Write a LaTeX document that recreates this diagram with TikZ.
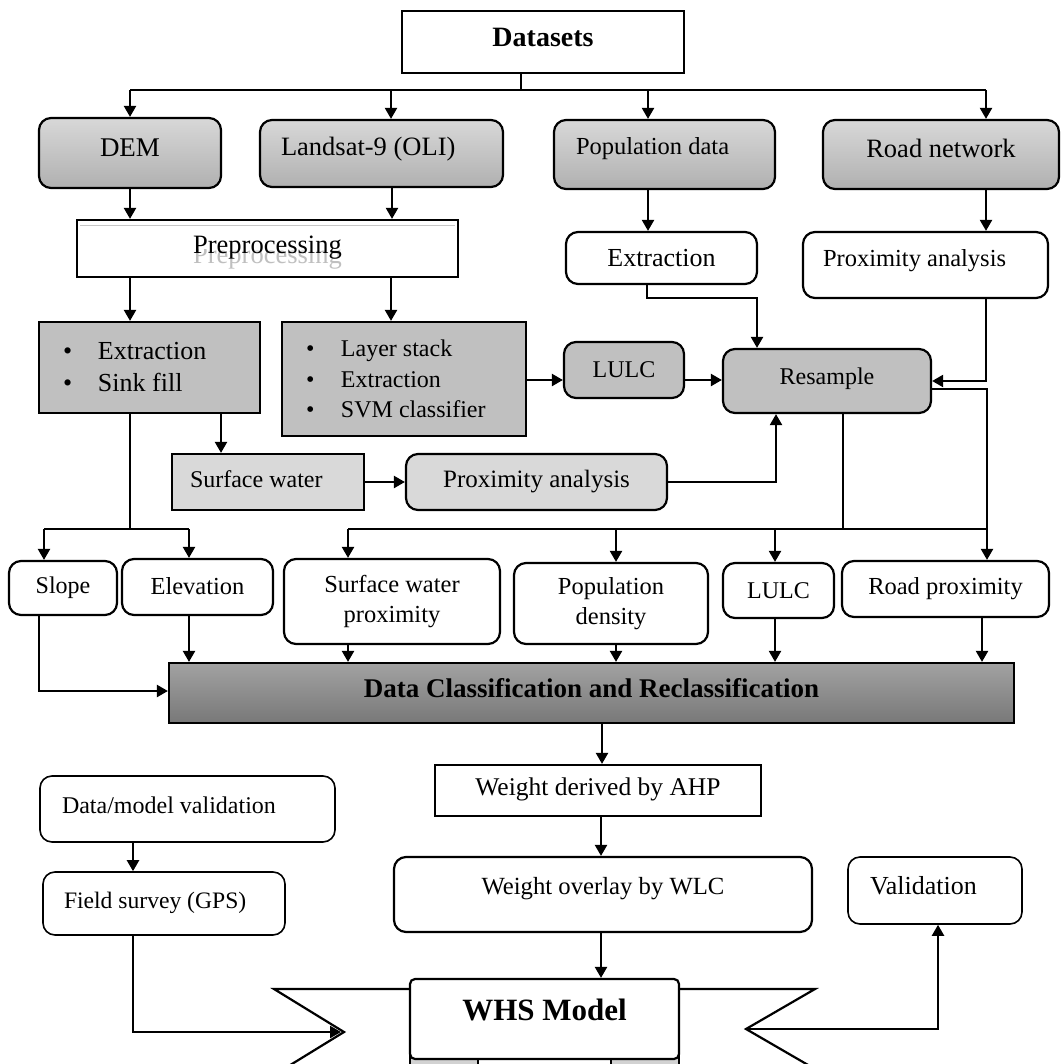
\documentclass[tikz,border=0pt]{standalone}
\usepackage{fontspec}
\setmainfont{Liberation Serif}
\usetikzlibrary{arrows.meta}
\definecolor{gtop}{RGB}{216,216,216}
\definecolor{gbot}{RGB}{176,176,176}
\definecolor{gflat}{RGB}{192,192,192}
\definecolor{glight}{RGB}{217,217,217}
\definecolor{dtop}{RGB}{162,162,162}
\definecolor{dbot}{RGB}{120,120,120}
\newcommand{\fsz}[2]{\fontsize{#1}{#2}\selectfont}
\newcommand{\up}[2]{\raisebox{#1pt}[\height][\depth]{#2}}
\newcommand{\lft}[2]{\makebox[#1pt][l]{#2}}
\newcommand{\bul}[1]{\makebox[35pt][l]{•}#1}
\begin{document}
\begin{tikzpicture}[x=1pt,y=-1pt,
  bx/.style={draw, line width=2.2pt, inner sep=0pt, align=center},
  rbx/.style={bx, rounded corners=12pt},
  thin/.style={line width=1.6pt},
  gradbox/.style={top color=gtop, bottom color=gbot},
  ln/.style={line width=2.2pt},
  arr/.style={line width=2.2pt, -{Triangle[length=11pt,width=12pt]}},
  sz/.style 2 args={minimum width=#1pt, minimum height=#2pt},
]
\useasboundingbox (0,0) rectangle (1061,1064);
\clip (0,0) rectangle (1061,1064);
\fill[white] (0,0) rectangle (1061,1064);

% ribbon tails (behind the WHS model banner)
\draw[ln, fill=white] (420,989) -- (274,989) -- (344,1032) -- (274,1075) -- (420,1075);
\draw[ln, fill=white] (670,989) -- (815,989) -- (746,1029) -- (815,1069) -- (670,1069);
\draw[line width=1.5pt, fill=gray!35] (410,1050) rectangle (478,1072);
\draw[line width=1.5pt, fill=gray!35] (611,1050) rectangle (679,1072);
\coordinate (lnotch) at (341,1032);
\coordinate (rnotch) at (746,1029);

% nodes
\node[bx, sz={282}{62}, font=\bfseries\fsz{28}{33}] (datasets) at (543,42) {\up{4.5}{Datasets}};
\node[rbx, gradbox, sz={182}{70}, font=\fsz{27}{32}] (dem) at (130,153) {\up{5.5}{DEM}};
\node[rbx, gradbox, sz={243}{67}, font=\fsz{26.5}{32}] (landsat) at (381.5,153.5) {\up{4}{\lft{201}{Landsat-9 (OLI)}}};
\node[rbx, gradbox, sz={221}{69}, font=\fsz{24.5}{30}] (popdata) at (664.5,154.5) {\up{6}{\lft{177}{Population data}}};
\node[rbx, gradbox, sz={236}{69}, font=\fsz{26.5}{32}] (road) at (941,154.5) {\up{6}{Road network}};

\begin{scope}
\clip (79,250) rectangle (456,275);
\node[text=gray!50, font=\fsz{26.5}{32}] (prepghost) at (267.5,258.5) {\up{1}{Preprocessing}};
\end{scope}
\draw[gray!45, line width=1.5pt] (80,225.5) -- (455,225.5);
\node[bx, sz={381}{57}, font=\fsz{26.5}{32}] (prep) at (267.5,248.5) {\up{1}{Preprocessing}};

\node[bx, fill=gflat, sz={221}{91}, font=\fsz{26}{32}] (ext1) at (149.5,367.5)
  {\lft{173}{\bul{Extraction}}\\\lft{173}{\bul{Sink fill}}};
\node[bx, fill=gflat, sz={244}{114}, font=\fsz{24}{30.5}] (layer) at (404,379)
  {\lft{196}{\bul{Layer stack}}\\\lft{196}{\bul{Extraction}}\\\lft{196}{\bul{SVM classifier}}};
\node[rbx, fill=gflat, sz={120}{56}, font=\fsz{24}{29}] (lulc1) at (624,370) {LULC};
\node[rbx, fill=gflat, sz={208}{64}, font=\fsz{24}{29}] (resample) at (827,381) {\up{2.5}{Resample}};
\node[rbx, sz={191}{52}, font=\fsz{26}{31}] (extpop) at (661.5,258) {Extraction};
\node[rbx, sz={245}{66}, font=\fsz{24.5}{30}] (proxroad) at (925.5,265) {\up{4}{\lft{205}{Proximity analysis}}};
\node[bx, fill=glight, sz={192}{56}, font=\fsz{24}{29}] (surfw) at (268,482) {\up{3}{\lft{156}{Surface water}}};
\node[rbx, fill=glight, sz={261}{56}, font=\fsz{25}{30}] (proxsw) at (536.5,482) {Proximity analysis};

\node[rbx, sz={108}{54}, font=\fsz{24}{29}] (slope) at (63,588) {Slope};
\node[rbx, sz={151}{56}, font=\fsz{24.5}{29}] (elev) at (197.5,587) {\up{1}{Elevation}};
\node[rbx, sz={216}{85}, font=\fsz{24.5}{30}] (swprox) at (392,601.5) {Surface water\\proximity};
\node[rbx, sz={194}{81}, font=\fsz{24.5}{30}] (popden) at (611,603.5) {Population\\density};
\node[rbx, sz={111}{55}, font=\fsz{24}{29}] (lulc2) at (778.5,590.5) {LULC};
\node[rbx, sz={207}{56}, font=\fsz{24.5}{29}] (roadprox) at (945.5,589) {Road proximity};

\node[bx, top color=dtop, bottom color=dbot, sz={845}{60}, font=\bfseries\fsz{27}{32}] (dcr) at (591.5,693) {\up{5}{Data Classification and Reclassification}};
\node[bx, sz={326}{51}, font=\fsz{25.5}{30}] (ahp) at (598,790.5) {\up{1.5}{Weight derived by AHP}};
\node[rbx, sz={418}{75}, font=\fsz{24.7}{30}] (wlc) at (603,894.5) {\up{6}{Weight overlay by WLC}};
\node[rbx, thin, sz={295}{66}, font=\fsz{24}{29}] (dmv) at (187.5,809) {\up{4}{\lft{251}{Data/model validation}}};
\node[rbx, thin, sz={242}{63}, font=\fsz{23.6}{29}] (field) at (164,903.5) {\up{0.5}{\lft{200}{Field survey (GPS)}}};
\node[rbx, thin, sz={174}{67}, font=\fsz{26}{31}] (valid) at (935,890.5) {\up{4.5}{\lft{130}{Validation}}};
\node[bx, fill=white, rounded corners=5pt, sz={269}{80}, font=\bfseries\fsz{31}{36}] (whs) at (544.5,1019) {\up{9.5}{WHS Model}};

% connectors
\draw[ln] (521,0 |- datasets.south) -- (521,90);
\draw[ln] (130,90) -- (986,90);
\draw[arr] (130,90) -- (130,0 |- dem.north);
\draw[arr] (391,90) -- (391,0 |- landsat.north);
\draw[arr] (648,90) -- (648,0 |- popdata.north);
\draw[arr] (986,90) -- (986,0 |- road.north);
\draw[arr] (130,0 |- dem.south) -- (130,0 |- prep.north);
\draw[arr] (392,0 |- landsat.south) -- (392,0 |- prep.north);
\draw[arr] (130,0 |- prep.south) -- (130,0 |- ext1.north);
\draw[arr] (391,0 |- prep.south) -- (391,0 |- layer.north);
\draw[arr] (648,0 |- popdata.south) -- (648,0 |- extpop.north);
\draw[arr] (986,0 |- road.south) -- (986,0 |- proxroad.north);
\draw[arr] (647,0 |- extpop.south) -- (647,298) -- (757,298) -- (757,0 |- resample.north);
\draw[arr] (986,0 |- proxroad.south) |- (resample.east);
\draw[ln] (resample.east |- 0,389) -| (987,529);
\draw[arr] (987,529) -- (987,0 |- roadprox.north);
\draw[arr] (layer.east |- 0,380) -- (lulc1.west |- 0,380);
\draw[arr] (lulc1.east |- 0,380) -- (resample.west |- 0,380);
\draw[arr] (221,0 |- ext1.south) -- (221,0 |- surfw.north);
\draw[arr] (surfw.east) -- (proxsw.west);
\draw[arr] (proxsw.east) -| (776,0 |- resample.south);
\draw[ln] (843,0 |- resample.south) -- (843,529);
\draw[ln] (348,529) -- (987,529);
\draw[arr] (348,529) -- (348,0 |- swprox.north);
\draw[arr] (616,529) -- (616,0 |- popden.north);
\draw[arr] (775,529) -- (775,0 |- lulc2.north);
\draw[ln] (130,0 |- ext1.south) -- (130,529);
\draw[ln] (44,529) -- (189,529);
\draw[arr] (44,529) -- (44,0 |- slope.north);
\draw[arr] (189,529) -- (189,0 |- elev.north);
\draw[arr] (39,0 |- slope.south) |- (dcr.west |- 0,691);
\draw[arr] (189,0 |- elev.south) -- (189,0 |- dcr.north);
\draw[arr] (348,0 |- swprox.south) -- (348,0 |- dcr.north);
\draw[arr] (616,0 |- popden.south) -- (616,0 |- dcr.north);
\draw[arr] (775,0 |- lulc2.south) -- (775,0 |- dcr.north);
\draw[arr] (982,0 |- roadprox.south) -- (982,0 |- dcr.north);
\draw[arr] (602,0 |- dcr.south) -- (602,0 |- ahp.north);
\draw[arr] (601,0 |- ahp.south) -- (601,0 |- wlc.north);
\draw[arr] (601,0 |- wlc.south) -- (601,0 |- whs.north);
\draw[arr] (133,0 |- dmv.south) -- (133,0 |- field.north);
\draw[arr] (133,0 |- field.south) |- (lnotch);
\draw[arr] (rnotch) -| (938,0 |- valid.south);
\end{tikzpicture}
\end{document}
